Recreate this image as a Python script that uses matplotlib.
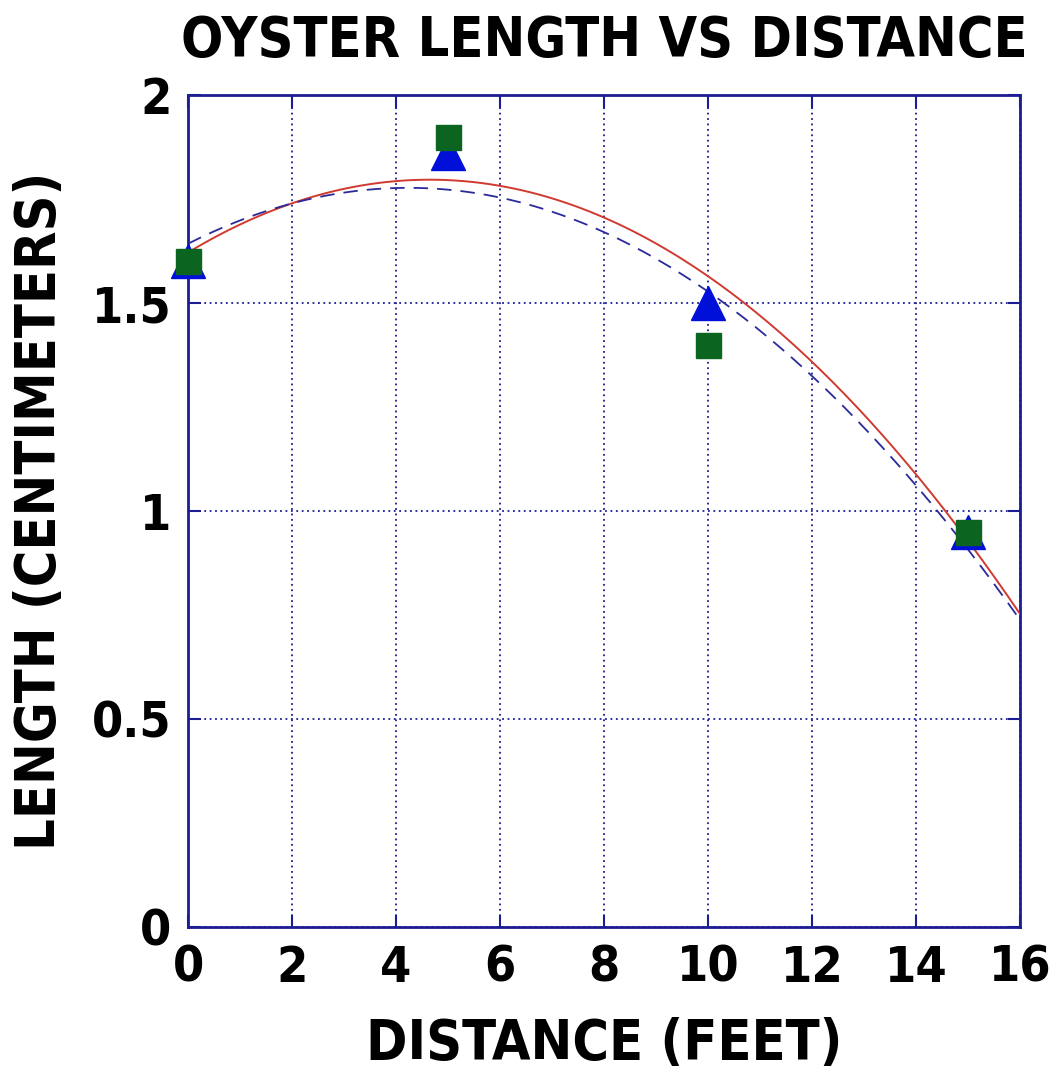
import matplotlib
matplotlib.use("Agg")
import matplotlib.pyplot as plt
import numpy as np

# measured oyster lengths at each distance
distance = [0, 5, 10, 15]
length_tri = [1.60, 1.86, 1.50, 0.95]
length_sq = [1.60, 1.90, 1.40, 0.95]

x_ticks = [0, 2, 4, 6, 8, 10, 12, 14, 16]
y_ticks = [0, 0.5, 1, 1.5, 2]
y_tick_labels = ["0", "0.5", "1", "1.5", "2"]

navy = "#1c1c94"
plt.rcParams["font.family"] = ["DejaVu Sans"]
plt.rcParams["font.stretch"] = "condensed"
plt.rcParams["font.weight"] = "bold"

fig = plt.figure(figsize=(10.51, 10.74), dpi=100)
ax = fig.add_axes([0.1789, 0.1369, 0.9705 - 0.1789, 0.9115 - 0.1369])

# quadratic fits of each series
xs = np.linspace(0, 16, 200)
fit_tri = np.polyval(np.polyfit(distance, length_tri, 2), xs)
fit_sq = np.polyval(np.polyfit(distance, length_sq, 2), xs)
ax.plot(xs, fit_tri, color="#d03a30", lw=1.4, zorder=3)
ax.plot(xs, fit_sq, color="#2a2a9a", lw=1.3, ls=(0, (8, 5)), zorder=3)

ax.plot(distance, length_tri, ls="none", marker="^", ms=24, color="#0010d8",
        mec="#0010d8", zorder=4, clip_on=False)
ax.plot(distance, length_sq, ls="none", marker="s", ms=18, color="#0b6420",
        mec="#0b6420", zorder=5, clip_on=False)

ax.set_xlim(0, 16)
ax.set_ylim(0, 2)
ax.set_xticks(x_ticks)
ax.set_yticks(y_ticks)
ax.set_yticklabels(y_tick_labels)
ax.grid(True, color=navy, ls=(0, (1, 2)), lw=1.3)
ax.tick_params(direction="in", length=9, width=1.5, color=navy,
               top=True, right=True, labelsize=36, pad=12)
for sp in ax.spines.values():
    sp.set_color(navy)
    sp.set_linewidth(2)

ax.set_title("OYSTER LENGTH VS DISTANCE", fontsize=40, fontweight="bold", pad=28)
ax.set_xlabel("DISTANCE (FEET)", fontsize=40, fontweight="bold", labelpad=18)
ax.set_ylabel("LENGTH (CENTIMETERS)", fontsize=40, fontweight="bold", labelpad=18)

plt.savefig("out.png", dpi=100)
